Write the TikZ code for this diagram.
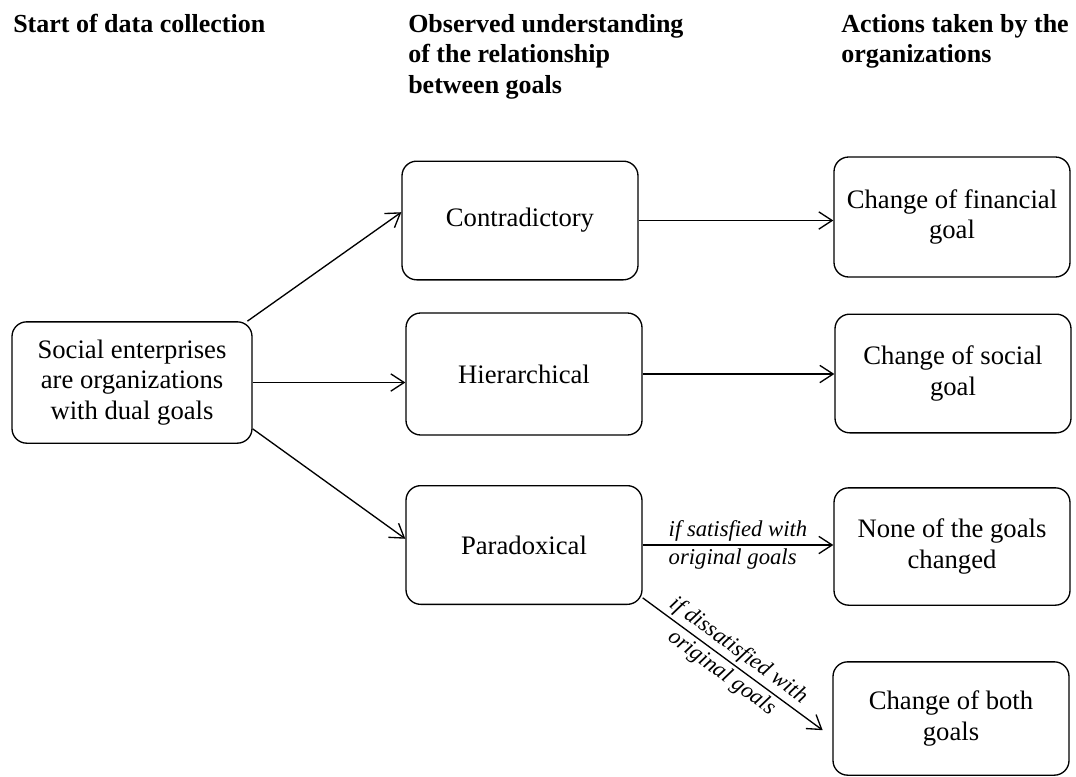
\documentclass[tikz,border=0pt]{standalone}
\usepackage{fontspec}
\setmainfont{Liberation Serif}
\usetikzlibrary{arrows.meta}

\begin{document}
\begin{tikzpicture}[x=0.75pt,y=-0.75pt,
    box/.style={draw,line width=1pt,rounded corners=11pt,align=center,
      minimum width=177pt,minimum height=89pt,inner sep=2pt,
      font=\fontsize{20}{23}\selectfont},
    head/.style={anchor=north west,align=left,inner sep=0pt,
      font=\fontsize{19.5}{23}\selectfont\bfseries},
    cond/.style={font=\fontsize{17}{21}\selectfont\itshape},
    >={Straight Barb[length=10pt,width=13pt]}]
  \useasboundingbox (0,0) rectangle (1076,776);
  \draw
    (13,14) node[head] (h0){Start of data collection}
    (408,14) node[head] (h1){Observed understanding\\of the relationship\\between goals}
    (841,14) node[head] (h2){Actions taken by the\\organizations};
  \draw
    (132,382.5) node[box,minimum width=180pt,minimum height=91pt] (se){Social enterprises\\are organizations\\with dual goals}
    (520,220.5) node[box] (con){Contradictory}
    (524,374) node[box,minimum height=91.5pt] (hie){Hierarchical}
    (524,545) node[box] (par){Paradoxical}
    (952,217) node[box,minimum height=90pt] (fin){Change of financial\\goal}
    (953,373.5) node[box] (soc){Change of social\\goal}
    (952,546.5) node[box,minimum height=88pt] (non){None of the goals\\changed}
    (951,718.5) node[box,minimum height=85pt] (bot){Change of both\\goals};
  \begin{scope}[->,line width=1pt]
    \draw (se.28) to (con.176);
    \draw (se.east) to (se.east -| hie.west);
    \draw (se.-21.6) to (par.177);
    \draw (con.east) to (con.east -| fin.west);
    \draw (hie.east) to (hie.east -| soc.west);
    \draw (par.east) to node[cond,align=left] {if satisfied with\\original goals} (par.east -| non.west);
    \draw[shorten >=9pt] (par.-24.6) to node[cond,align=center,sloped,pos=0.46] {if dissatisfied with\\original goals} (bot.189);
  \end{scope}
\end{tikzpicture}
\end{document}
